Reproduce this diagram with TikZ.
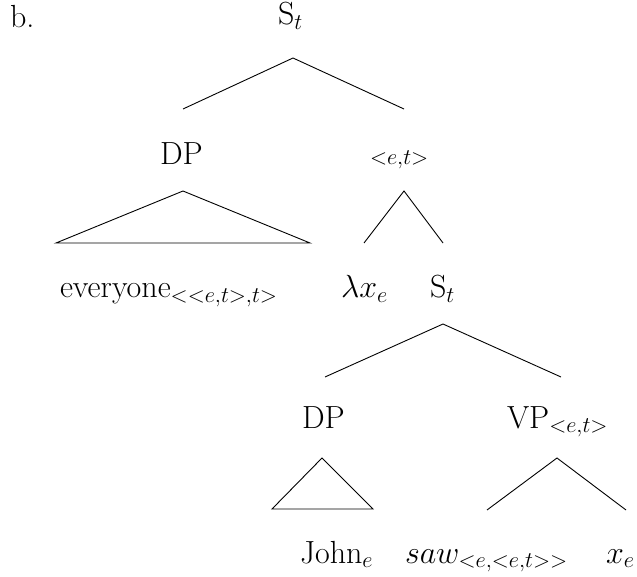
\RequirePackage{fix-cm}
\documentclass[tikz,border=0pt]{standalone}
\begin{document}
\begin{tikzpicture}[x=1pt,y=-1pt,
  lab/.style={inner sep=0pt,outer sep=0pt,anchor=base west,font=\fontsize{32}{38}\selectfont},
  br/.style={line width=0.9pt,line join=miter}]
\useasboundingbox (0,0) rectangle (637,577);
% labels
\node[lab] (b) at (10,28) {b.};
\node[lab] (S1) at (278,25) {S$_t$};
\node[lab] (DP1) at (160,165) {DP};
\node[lab] (ET) at (370,165) {$\scriptstyle<e,t>$};
\node[lab] (every) at (60,298) {everyone$_{<<e,t>,t>}$};
\node[lab] (lam) at (341,298) {$\lambda x_e$};
\node[lab] (S2) at (430,298) {S$_t$};
\node[lab] (DP2) at (302,428) {DP};
\node[lab] (VP) at (507,428) {VP$_{<e,t>}$};
\node[lab] (john) at (300,563) {John$_e$};
\node[lab] (saw) at (405,563) {$saw_{<e,<e,t>>}$};
\node[lab] (xe) at (606,563) {$x_e$};
% branch points
\coordinate (a1) at (293,58);
\coordinate (l1) at (183,109);
\coordinate (r1) at (404,109);
\coordinate (a2) at (183,191);
\coordinate (l2) at (56,243);
\coordinate (r2) at (310,243);
\coordinate (a3) at (404,191);
\coordinate (l3) at (364,243);
\coordinate (r3) at (443,243);
\coordinate (a4) at (443,324);
\coordinate (l4) at (325,377);
\coordinate (r4) at (561,377);
\coordinate (a5) at (322,458);
\coordinate (l5) at (272,509);
\coordinate (r5) at (373,509);
\coordinate (a6) at (557,458);
\coordinate (l6) at (487,510);
\coordinate (r6) at (626,510);
\draw[br] (l1) -- (a1) -- (r1);
\draw[br] (l2) -- (a2) -- (r2) -- cycle;
\draw[br] (l3) -- (a3) -- (r3);
\draw[br] (l4) -- (a4) -- (r4);
\draw[br] (l5) -- (a5) -- (r5) -- cycle;
\draw[br] (l6) -- (a6) -- (r6);
\end{tikzpicture}
\end{document}
